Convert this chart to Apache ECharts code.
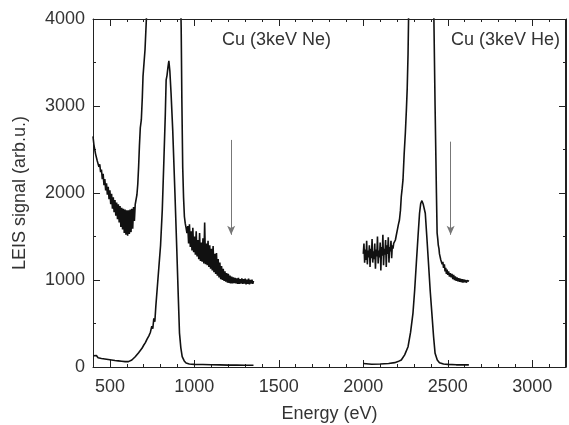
<!DOCTYPE html>
<html>
<head>
<meta charset="utf-8">
<script src="https://cdn.jsdelivr.net/npm/echarts@6/dist/echarts.min.js"></script>
<style>
  html, body { margin: 0; padding: 0; background: #fff; }
  #chart { width: 569px; height: 425px; }
</style>
</head>
<body>
<div id="chart"></div>
<script>
// Cu spectrum, 3 keV Ne, raw
const neLow = [
  [400,130],[410,112],[420,132],[430,106],[440,122],[450,98],[460,114],[470,92],[480,108],[490,86],
  [500,100],[510,80],[520,94],[530,74],[540,88],[550,70],[560,84],[570,66],[580,80],[590,62],
  [600,76],[610,62],[620,76],[630,80],[640,96],[650,118],[660,140],[670,165],[680,190],[690,215],
  [700,250],[710,280],[720,320],[730,355],[740,400],[748,470],[754,440],[760,560],[766,520],[772,700],
  [780,900],[790,1150],[800,1400],[810,1800],[820,2400],[828,2900],[833,3300],[838,3350],[844,3450],[849,3520],
  [855,3400],[862,3150],[872,2720],[885,2000],[896,1350],[905,800],[912,390],[920,220],[928,120],[940,70],
  [951,46],[970,35],[1000,30],[1050,28],[1100,25],[1150,24],[1200,22],[1250,21],[1300,20],[1350,20]
];
// Cu spectrum, 3 keV Ne, magnified and offset
const neHigh = [
  [400,2650],[405,2560],[410,2540],[415,2450],[420,2450],[425,2370],[430,2380],[435,2300],[440,2330],[445,2240],
  [450,2270],[455,2160],[460,2220],[465,2090],[470,2160],[475,2030],[480,2110],[485,1980],[490,2070],[495,1930],
  [500,2030],[505,1870],[510,1990],[515,1820],[520,1950],[525,1780],[530,1920],[535,1740],[540,1890],[545,1700],
  [550,1870],[555,1660],[560,1850],[565,1610],[570,1830],[575,1580],[580,1820],[585,1540],[590,1810],[595,1520],
  [600,1800],[605,1510],[610,1800],[615,1530],[620,1810],[625,1550],[630,1820],[635,1590],[640,1840],[645,1680],
  [650,1870],[655,1860],[660,1980],[665,2100],[670,2300],[675,2550],[680,2750],[686,2840],[692,3100],[696,3340],
  [700,3360],[708,3650],[716,4000],[722,4300],[740,6000],[905,6000],[918,4300],[922,3900],[926,3070],[931,2300],
  [936,1950],[941,1730],[946,1650],[951,1600],[956,1540],[961,1620],[966,1420],[971,1640],[976,1380],[981,1560],
  [986,1340],[991,1600],[996,1320],[1001,1500],[1006,1290],[1011,1560],[1016,1270],[1021,1460],[1026,1240],[1031,1540],
  [1036,1220],[1041,1430],[1046,1210],[1051,1480],[1056,1190],[1061,1660],[1066,1180],[1071,1420],[1076,1170],[1081,1450],
  [1086,1150],[1091,1400],[1096,1130],[1101,1360],[1106,1110],[1111,1390],[1116,1090],[1121,1300],[1126,1070],[1131,1310],
  [1136,1050],[1141,1240],[1146,1030],[1151,1200],[1156,1010],[1161,1160],[1166,1000],[1171,1130],[1176,990],[1181,1100],
  [1186,980],[1191,1080],[1196,970],[1201,1070],[1206,965],[1211,1050],[1216,960],[1221,1040],[1226,960],[1231,1030],
  [1236,965],[1241,1025],[1246,960],[1251,1020],[1256,955],[1261,1025],[1266,955],[1271,1010],[1276,960],[1281,1020],
  [1286,955],[1291,1010],[1296,960],[1301,1015],[1306,950],[1311,1005],[1316,955],[1321,1015],[1326,950],[1331,1000],
  [1336,960],[1341,1005],[1346,955],[1350,990]
];
// Cu spectrum, 3 keV He, raw
const heLow = [
  [2000,40],[2004,20],[2010,35],[2050,32],[2100,35],[2150,40],[2186,50],[2205,62],[2225,80],[2245,140],
  [2265,233],[2280,400],[2294,617],[2304,880],[2314,1192],[2324,1500],[2333,1767],[2340,1880],[2347,1912],[2355,1870],
  [2367,1767],[2376,1500],[2386,1192],[2396,880],[2406,617],[2416,350],[2425,157],[2438,80],[2451,50],[2475,35],
  [2500,30],[2550,25],[2600,25],[2625,25]
];
// Cu spectrum, 3 keV He, magnified and offset
const heHigh = [
  [2000,1300],[2004,1420],[2008,1200],[2012,1350],[2016,1230],[2020,1450],[2024,1180],[2028,1340],[2032,1260],[2036,1400],
  [2040,1150],[2044,1360],[2048,1250],[2052,1470],[2056,1200],[2060,1330],[2064,1240],[2068,1420],[2072,1130],[2076,1350],
  [2080,1270],[2084,1500],[2088,1190],[2092,1340],[2096,1260],[2100,1430],[2104,1110],[2108,1380],[2112,1280],[2116,1520],
  [2120,1170],[2124,1360],[2128,1290],[2132,1460],[2136,1150],[2140,1400],[2144,1300],[2148,1490],[2152,1200],[2156,1380],
  [2160,1330],[2164,1450],[2168,1250],[2172,1400],[2176,1360],[2180,1420],[2185,1400],[2190,1460],[2196,1520],[2202,1580],
  [2208,1640],[2214,1690],[2220,1800],[2225,1960],[2230,2050],[2235,2150],[2242,2450],[2249,2690],[2255,2950],[2260,3200],
  [2265,3600],[2268,4000],[2275,4800],[2300,6000],[2400,6000],[2410,4700],[2418,4000],[2425,3000],[2433,2000],[2437,1540],
  [2441,1470],[2444,1400],[2448,1360],[2451,1300],[2455,1280],[2459,1230],[2463,1250],[2467,1180],[2471,1210],[2475,1140],
  [2480,1180],[2484,1100],[2488,1140],[2492,1070],[2496,1120],[2500,1060],[2505,1100],[2510,1040],[2515,1080],[2520,1030],
  [2525,1070],[2530,1010],[2535,1060],[2540,1000],[2545,1040],[2550,990],[2555,1030],[2560,985],[2565,1020],[2570,980],
  [2575,1015],[2580,975],[2585,1010],[2590,970],[2595,1005],[2600,975],[2605,1000],[2610,970],[2615,995],[2620,975],[2626,985]
];
const arrowNe = [[1218,2610],[1218,1520]];
const arrowHe = [[2517,2590],[2517,1520]];
const xRange = [400, 3200];
const yTicks = [0,1000,2000,3000,4000];

const textColor = '#333';
const lineColor = '#222';
const font = 'Liberation Sans, Arial, sans-serif';
const clear = 'rgba(0,0,0,0)';

let myChart = echarts.init(document.getElementById('chart'));

// main axis carries labels, mirrored axes only ticks (labels kept inside and invisible)
function xAx(pos, minor, labels) {
  return {
    type: 'value', position: pos, min: xRange[0], max: xRange[1],
    interval: minor ? 100 : undefined,
    name: labels ? 'Energy (eV)' : '',
    nameLocation: 'middle', nameGap: 38,
    nameTextStyle: { color: textColor, fontSize: 18, fontFamily: font },
    axisLine: { show: true, onZero: false, lineStyle: { color: minor ? clear : lineColor, width: 1 } },
    axisTick: { show: true, inside: true, length: minor ? 3 : 7, lineStyle: { color: lineColor } },
    axisLabel: {
      show: true, inside: !labels, color: labels ? textColor : clear,
      fontSize: labels ? 18 : 8, fontFamily: font, margin: labels ? 11 : 2,
      showMinLabel: false, showMaxLabel: false,
      formatter: v => String(v)
    },
    splitLine: { show: false }
  };
}

function yAx(pos, labels) {
  return {
    type: 'value', position: pos, min: yTicks[0], max: yTicks[yTicks.length - 1], interval: 1000,
    name: labels ? 'LEIS signal (arb.u.)' : '',
    nameLocation: 'middle', nameGap: 64,
    nameTextStyle: { color: textColor, fontSize: 18, fontFamily: font },
    axisLine: { show: true, onZero: false, lineStyle: { color: lineColor, width: 1 } },
    axisTick: { show: true, inside: true, length: 7, lineStyle: { color: lineColor } },
    minorTick: { show: true, splitNumber: 2, length: 3, lineStyle: { color: lineColor } },
    axisLabel: {
      show: true, inside: !labels, color: labels ? textColor : clear,
      fontSize: labels ? 18 : 8, fontFamily: font, margin: labels ? 8 : 2,
      formatter: v => String(v)
    },
    splitLine: { show: false }
  };
}

function spec(data, w) {
  return {
    type: 'line', data: data, showSymbol: false, symbol: 'none', clip: true,
    lineStyle: { color: '#111', width: w }, silent: true
  };
}

function arrow(coords) {
  return {
    type: 'line', data: [], silent: true,
    markLine: {
      silent: true, symbol: ['none', 'arrow'], symbolSize: [6, 9],
      label: { show: false },
      lineStyle: { color: '#777', width: 1, type: 'solid' },
      data: [[{ coord: coords[0] }, { coord: coords[1] }]]
    }
  };
}

let option = {
  animation: false,
  backgroundColor: '#fff',
  grid: { left: 93, right: 3, top: 19, bottom: 58, outerBoundsMode: 'none' },
  xAxis: [xAx('bottom', false, true), xAx('bottom', true, false), xAx('top', false, false), xAx('top', true, false)],
  yAxis: [yAx('left', true), yAx('right', false)],
  graphic: [
    { type: 'text', left: 222, top: 31, style: { text: 'Cu (3keV Ne)', fill: textColor, fontSize: 18, fontFamily: font } },
    { type: 'text', left: 451, top: 31, style: { text: 'Cu (3keV He)', fill: textColor, fontSize: 18, fontFamily: font } }
  ],
  series: [
    spec(neLow, 1.6),
    spec(neHigh, 1.6),
    spec(heLow, 1.6),
    spec(heHigh, 1.6),
    arrow(arrowNe),
    arrow(arrowHe)
  ]
};
myChart.setOption(option);

// plot frame from the axis extents
let p0 = myChart.convertToPixel({ xAxisIndex: 0, yAxisIndex: 0 }, [xRange[0], yTicks[yTicks.length - 1]]);
let p1 = myChart.convertToPixel({ xAxisIndex: 0, yAxisIndex: 0 }, [xRange[1], yTicks[0]]);
myChart.setOption({
  graphic: [
    { type: 'text', left: 222, top: 31, style: { text: 'Cu (3keV Ne)', fill: textColor, fontSize: 18, fontFamily: font } },
    { type: 'text', left: 451, top: 31, style: { text: 'Cu (3keV He)', fill: textColor, fontSize: 18, fontFamily: font } },
    {
      type: 'polyline', silent: true, z: 10,
      shape: { points: [[Math.round(p0[0]) + 0.5, Math.round(p0[1]) + 0.5], [Math.round(p1[0]) - 0.5, Math.round(p0[1]) + 0.5], [Math.round(p1[0]) - 0.5, Math.round(p1[1])]] },
      style: { stroke: lineColor, lineWidth: 1, fill: null }
    }
  ]
});
</script>
</body>
</html>
